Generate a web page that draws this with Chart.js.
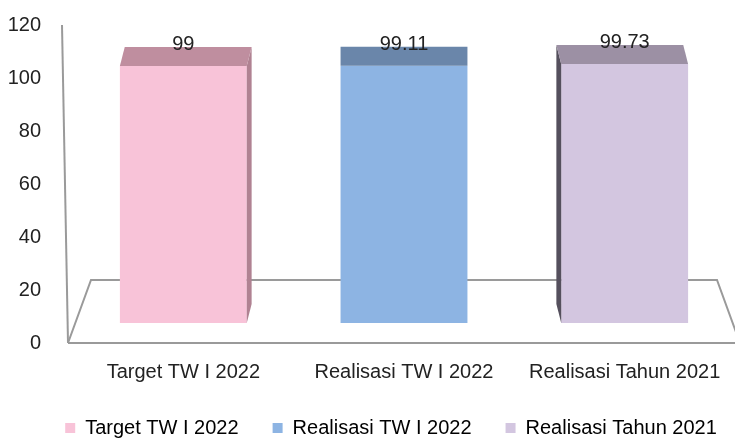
<!DOCTYPE html>
<html>
<head>
<meta charset="utf-8">
<script src="https://cdn.jsdelivr.net/npm/chart.js@4.4.0/dist/chart.umd.min.js"></script>
<style>
  html, body { margin: 0; padding: 0; background: #fff; }
</style>
</head>
<body>
<canvas id="barChart" width="735" height="439"></canvas>
<script>
// Chart data
const categories = ['Target TW I 2022', 'Realisasi TW I 2022', 'Realisasi Tahun 2021'];
const values = [99, 99.11, 99.73];
const valueLabels = ['99', '99.11', '99.73'];
const yTicks = [0, 20, 40, 60, 80, 100, 120];

// Colours: front, top and side faces of each bar
const frontColors = ['#f8c3d8', '#8db4e3', '#d3c6e0'];
const topColors = ['#bf8e9f', '#6a86aa', '#9c90a4'];
const sideColors = ['#b08292', '#5f7a9c', '#55505d'];

const FONT = "'Liberation Sans', Arial, sans-serif";
Chart.defaults.font.family = FONT;
Chart.defaults.font.size = 20;
Chart.defaults.color = '#222';

// Draws the floor, slanted axis and the 3D faces of the bars
const bars3d = {
    id: 'bars3d',
    afterLayout(chart) {
        // legend sits a bit right of the centre in the original
        chart.legend.left += 21;
        chart.legend.right += 21;
    },
    beforeDatasetsDraw(chart) {
        const { ctx, chartArea: a } = chart;
        ctx.save();
        ctx.strokeStyle = '#9a9a9a';
        ctx.lineWidth = 2;
        // floor outline
        ctx.beginPath();
        ctx.moveTo(a.left - 5, a.bottom);
        ctx.lineTo(a.left + 18, a.bottom - 63);
        ctx.lineTo(a.right - 18, a.bottom - 63);
        ctx.lineTo(a.right + 5, a.bottom);
        ctx.stroke();
        ctx.beginPath();
        ctx.moveTo(a.left - 5, a.bottom);
        ctx.lineTo(chart.width, a.bottom);
        ctx.stroke();
        // value axis
        ctx.beginPath();
        ctx.moveTo(a.left - 11, a.top);
        ctx.lineTo(a.left - 5, a.bottom);
        ctx.stroke();
        ctx.restore();
    },
    afterDatasetsDraw(chart) {
        const { ctx, chartArea: a } = chart;
        const meta = chart.getDatasetMeta(0);
        const mid = (a.left + a.right) / 2;
        const dy = 19;
        ctx.save();
        meta.data.forEach((bar, i) => {
            const { x, y, base, width } = bar.getProps(['x', 'y', 'base', 'width'], true);
            const l = x - width / 2;
            const r = x + width / 2;
            const dx = (mid - x) * 0.022;

            // side face
            const sx = dx > 0 ? r : l;
            ctx.fillStyle = sideColors[i];
            ctx.beginPath();
            ctx.moveTo(sx, y);
            ctx.lineTo(sx + dx, y - dy);
            ctx.lineTo(sx + dx, base - dy);
            ctx.lineTo(sx, base);
            ctx.closePath();
            ctx.fill();

            // top face
            ctx.fillStyle = topColors[i];
            ctx.beginPath();
            ctx.moveTo(l, y);
            ctx.lineTo(l + dx, y - dy);
            ctx.lineTo(r + dx, y - dy);
            ctx.lineTo(r, y);
            ctx.closePath();
            ctx.fill();

            // value label
            ctx.fillStyle = '#222';
            ctx.font = '20px ' + FONT;
            ctx.textAlign = 'center';
            ctx.textBaseline = 'alphabetic';
            ctx.fillText(valueLabels[i], x, y - 16);
        });
        ctx.restore();
    }
};

const ctx = document.getElementById('barChart').getContext('2d');

new Chart(ctx, {
    type: 'bar',
    data: {
        labels: categories,
        datasets: [{
            data: values,
            backgroundColor: frontColors,
            borderWidth: 0,
            yAxisID: 'yBar',
            barPercentage: 0.575,
            categoryPercentage: 1
        }]
    },
    options: {
        responsive: false,
        devicePixelRatio: 1,
        animation: false,
        layout: { padding: { left: 0, right: -5, top: 25, bottom: -9 } },
        plugins: {
            tooltip: { enabled: false },
            legend: {
                position: 'bottom',
                onClick: null,
                labels: {
                    boxWidth: 10,
                    boxHeight: 10,
                    padding: 34,
                    color: '#222',
                    generateLabels: () => categories.map((c, i) => ({
                        text: c,
                        fillStyle: frontColors[i],
                        strokeStyle: frontColors[i],
                        lineWidth: 0,
                        hidden: false,
                        index: i
                    }))
                }
            }
        },
        scales: {
            x: {
                grid: { display: false, drawTicks: false },
                border: { display: false },
                ticks: { padding: 17, maxRotation: 0, autoSkip: false },
                afterFit: s => {
                    s.height = 41;
                    s.paddingLeft = 0;
                    s.paddingRight = 0;
                }
            },
            y: {
                position: 'left',
                min: yTicks[0],
                max: yTicks[yTicks.length - 1],
                grid: { display: false, drawTicks: false },
                border: { display: false },
                ticks: { padding: 32, stepSize: yTicks[1] - yTicks[0], color: '#222' },
                afterFit: s => {
                    s.width = 73;
                    s.paddingTop = 0;
                    s.paddingBottom = 0;
                }
            },
            yBar: {
                axis: 'y',
                display: false,
                min: -7.7,
                max: 114.8
            }
        }
    },
    plugins: [bars3d]
});
</script>
</body>
</html>
